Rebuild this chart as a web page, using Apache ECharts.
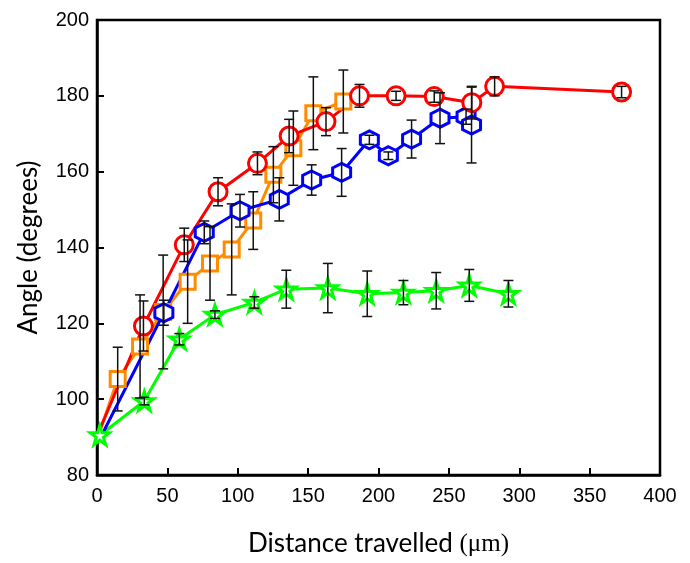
<!DOCTYPE html>
<html lang="en">
<head>
    <meta charset="UTF-8">
    <title>Angle vs distance</title>
    <script src="https://cdn.jsdelivr.net/npm/echarts@6/dist/echarts.min.js"></script>
    <style>
        html, body { margin: 0; padding: 0; background: #fff; }
        #main { width: 690px; height: 563px; }
    </style>
</head>
<body>
<div id="main"></div>
<script>
    // x ticks / y ticks
    var xTicks = [0, 50, 100, 150, 200, 250, 300, 350, 400];
    var yTicks = [80, 100, 120, 140, 160, 180, 200];

    // red circles
    var redX = [2, 33, 62, 86, 114, 136.5, 162.7, 186.5, 212.5, 239.6, 266.3, 282.5, 372.7];
    var redY = [92, 119.3, 140.7, 154.7, 162.2, 169.4, 173.2, 180, 180, 179.8, 178.2, 182.5, 181];
    var redErr = [0, 6.6, 4.4, 3.7, 3, 4.4, 3.7, 3, 1.2, 1.5, 4.3, 2.5, 1.5];

    // orange squares
    var orangeX = [2, 14.7, 30.6, 47, 64.4, 80.3, 95.7, 111, 125.3, 139.5, 153.7, 175];
    var orangeY = [91.5, 105.3, 113.9, 123, 131, 135.8, 139.5, 147.1, 159.2, 166.2, 175.4, 178.5];
    var orangeErr = [0, 8.4, 13.6, 15, 11, 9.7, 12, 7.6, 7.4, 9.8, 9.6, 8.3];

    // blue hexagons
    var blueX = [2, 47.5, 76.2, 101.6, 129.5, 152.5, 173.8, 193.5, 207, 223.5, 243.7, 262.2, 266.1];
    var blueY = [89.5, 122.8, 144, 149.7, 152.7, 157.8, 159.8, 168.4, 164.2, 168.6, 174.1, 174.5, 172.3];
    var blueErr = [0, 3.3, 3, 4.3, 5.7, 4, 6.3, 1.2, 1, 5, 6.7, 2, 10];

    // green stars
    var greenX = [2, 33.6, 58.5, 83.8, 111.8, 134.5, 164, 192, 217.7, 241, 264.5, 292.3];
    var greenY = [90.5, 99.5, 115.8, 122.3, 125.5, 129, 129.3, 127.8, 128.1, 128.6, 130, 127.8];
    var greenErr = [0, 1, 1.5, 1, 1.5, 5, 6.5, 6, 3.2, 4.8, 4.2, 3.5];

    var hexPath = 'path://M50,0 L93,25 L93,75 L50,100 L7,75 L7,25 Z';
    var starPath = 'path://M50,2 L61,36 L97,36 L68,57 L79,92 L50,71 L21,92 L32,57 L3,36 L39,36 Z';

    // first point of red/orange/blue sits under the axis, no marker shown there
    function pts(xs, ys, hideFirst) {
        var out = [];
        for (var i = 0; i < xs.length; i++) {
            if (i === 0 && hideFirst) out.push({ value: [xs[i], ys[i]], symbol: 'none' });
            else out.push([xs[i], ys[i]]);
        }
        return out;
    }

    function errPts(xs, ys, es) {
        var out = [];
        for (var i = 0; i < xs.length; i++) {
            if (es[i] > 0) out.push([xs[i], ys[i], es[i]]);
        }
        return out;
    }

    // error bars drawn as custom series
    function errorBars(data) {
        return {
            type: 'custom',
            z: 10,
            silent: true,
            data: data,
            renderItem: function (params, api) {
                var x = api.value(0), y = api.value(1), e = api.value(2);
                var top = api.coord([x, y + e]);
                var bot = api.coord([x, y - e]);
                var w = 5;
                var st = { stroke: '#111', lineWidth: 1.5 };
                return {
                    type: 'group',
                    children: [
                        { type: 'line', shape: { x1: top[0], y1: top[1], x2: bot[0], y2: bot[1] }, style: st },
                        { type: 'line', shape: { x1: top[0] - w, y1: top[1], x2: top[0] + w, y2: top[1] }, style: st },
                        { type: 'line', shape: { x1: bot[0] - w, y1: bot[1], x2: bot[0] + w, y2: bot[1] }, style: st }
                    ]
                };
            }
        };
    }

    function lineSeries(data, color, symbol, size) {
        return {
            type: 'line',
            data: data,
            symbol: symbol,
            symbolSize: size,
            showAllSymbol: true,
            z: 5,
            lineStyle: { color: color, width: 3 },
            itemStyle: { color: '#fff', borderColor: color, borderWidth: 3 },
            emphasis: { disabled: true }
        };
    }

    var chart = echarts.init(document.getElementById('main'));
    var tickFont = { color: '#000', fontSize: 20, fontFamily: 'Liberation Sans' };

    chart.setOption({
        animation: false,
        backgroundColor: '#fff',
        grid: { left: 97, right: 30, top: 20, bottom: 88, show: true, borderColor: '#000', borderWidth: 2.5 },
        xAxis: {
            type: 'value', min: 0, max: 400, interval: 50,
            name: 'Distance travelled {u|(μm)}',
            nameLocation: 'middle', nameGap: 56,
            nameTextStyle: {
                color: '#000', fontSize: 26, fontFamily: 'Lato',
                rich: { u: { fontSize: 25, fontFamily: 'Liberation Serif', color: '#000' } }
            },
            axisLine: { lineStyle: { color: '#000', width: 2.5 } },
            axisTick: { inside: true, length: 7, lineStyle: { color: '#000', width: 2 } },
            axisLabel: Object.assign({ margin: 11 }, tickFont),
            splitLine: { show: false }
        },
        yAxis: {
            type: 'value', min: 80, max: 200, interval: 20,
            name: 'Angle (degrees)',
            nameLocation: 'middle', nameGap: 55,
            nameTextStyle: { color: '#000', fontSize: 26, fontFamily: 'Lato' },
            axisLine: { lineStyle: { color: '#000', width: 2.5 } },
            axisTick: { inside: true, length: 7, lineStyle: { color: '#000', width: 2 } },
            axisLabel: Object.assign({ margin: 8 }, tickFont),
            splitLine: { show: false }
        },
        series: [
            lineSeries(pts(greenX, greenY, false), '#00ff00', starPath, 19),
            lineSeries(pts(orangeX, orangeY, true), '#ff8c00', 'rect', 15),
            lineSeries(pts(blueX, blueY, true), '#0000ff', hexPath, 18),
            lineSeries(pts(redX, redY, true), '#ff0000', 'circle', 18),
            errorBars(errPts(greenX, greenY, greenErr)),
            errorBars(errPts(orangeX, orangeY, orangeErr)),
            errorBars(errPts(blueX, blueY, blueErr)),
            errorBars(errPts(redX, redY, redErr))
        ]
    });
</script>
</body>
</html>
